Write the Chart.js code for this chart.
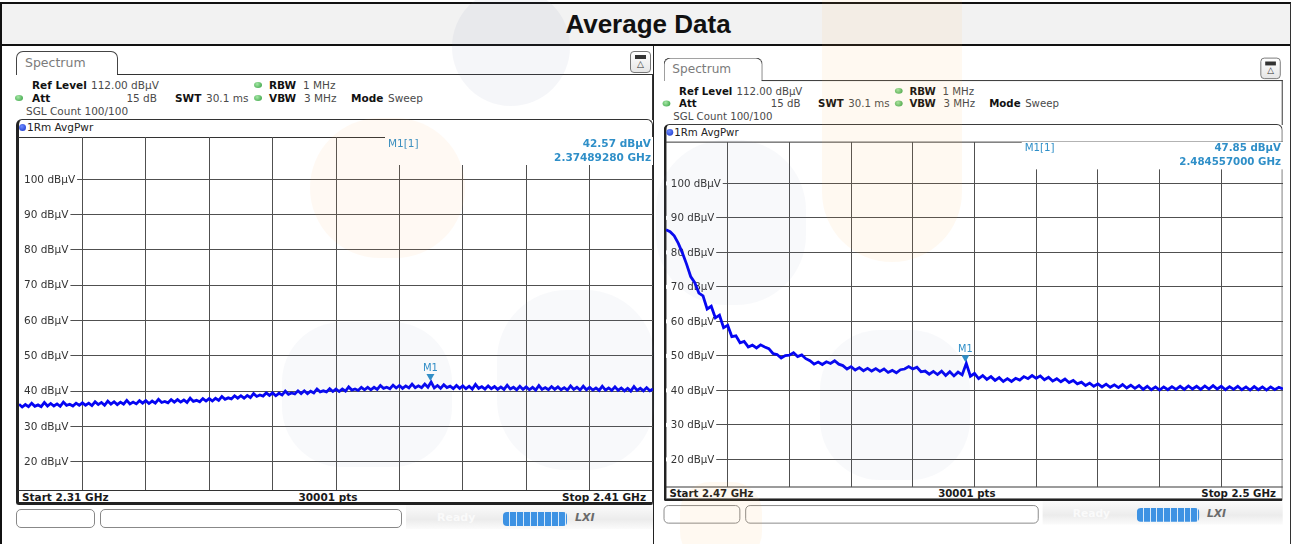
<!DOCTYPE html>
<html>
<head>
<meta charset="utf-8">
<script src="https://cdn.jsdelivr.net/npm/chart.js@4.4.1/dist/chart.umd.min.js"></script>
<style>
*{box-sizing:border-box}
body{margin:0;width:1292px;height:544px;overflow:hidden;position:relative;background:#fff;font-family:"DejaVu Sans",sans-serif}
#frame{position:absolute;left:0;top:2px;width:1291px;height:542px;border-left:2px solid #111;border-top:2px solid #111;border-right:1px solid #333}
#titlebg{position:absolute;left:2px;top:4px;width:1288px;height:42px;background:#f2f2f2;border-bottom:2px solid #111}
#title{position:absolute;left:4px;top:4px;width:1288px;height:40px;font:bold 26px "Liberation Sans",Arial,sans-serif;color:#111;text-align:center;line-height:40px}
#divider{position:absolute;left:653px;top:46px;width:1px;height:498px;background:#222}
.panel{position:absolute;left:0;top:0;width:640px;height:490px;transform-origin:0 0}
.panel div{position:absolute}
.ln{background:#333}
.t{font-size:10.5px;line-height:14px;white-space:nowrap;color:#4a4a4a}
.b{font-weight:bold;color:#111}
.dot{width:8px;height:6px;border-radius:50%;background:radial-gradient(circle at 40% 35%,#a6e8a6,#2f9c3c)}
.bdot{width:7px;height:7px;border-radius:50%;background:radial-gradient(circle at 40% 35%,#6f8cff,#1230c8)}
.tab{left:2px;top:4px;width:102px;height:24px;border:1px solid #444;border-bottom:none;border-radius:7px 7px 0 0;background:#fff}
.tab span{position:absolute;left:8px;top:3px;font-size:12.5px;line-height:16px;color:#7b7b7b}
.icon{left:616px;top:4px;width:21px;height:22px;border:1px solid #777;border-radius:4px;background:linear-gradient(#fff,#e6e6e6)}
.icon .itop{left:4px;top:3px;width:11px;height:4px;background:#333}
.icon .itri{left:0;top:6px;width:19px;text-align:center;font-size:9px;line-height:12px;color:#333}
.tbox{left:2px;top:72px;width:637px;height:386px;border:1px solid #333;border-left:3px solid #222;border-bottom:3px solid #222;border-radius:6px 6px 2px 3px}
.sbox{top:462px;height:19px;border:1px solid #888;border-radius:5px;background:#fff}
.band{left:392px;top:458px;width:247px;height:24px;background:linear-gradient(to bottom,#fbfbfb,#ececec 60%,#fbfbfb)}
.prog{left:489px;top:465px;width:64px;height:14px;border-radius:4px;background:repeating-linear-gradient(to right,#3d92e3 0,#3d92e3 6px,#d9ebfb 6px,#d9ebfb 7px)}
.lxi{left:561px;top:464px;font:italic bold 11px "DejaVu Sans",sans-serif;color:#6a6a6a;line-height:14px}
.ready{left:423px;top:464px;font:bold 11px "DejaVu Sans",sans-serif;color:#fafafa;line-height:14px}
.plot{position:absolute}
.plot canvas{display:block}
.wm{position:absolute;pointer-events:none;z-index:20}
</style>
</head>
<body>
<div id="frame"></div>
<div id="titlebg"></div>
<div id="title">Average Data</div>
<div id="divider"></div>
<div id="p1" class="panel" style="transform:translate(14px,47px)"></div>
<div id="p2" class="panel" style="transform:translate(661.6px,53.7px) scale(0.972,0.977)"></div>
<div class="plot" style="left:19px;top:137px;width:634px;height:353px"><canvas id="c1" width="634" height="353"></canvas></div>
<div class="plot" style="left:666px;top:142px;width:617px;height:345px"><canvas id="c2" width="617" height="345"></canvas></div>

<div class="wm" style="left:452px;top:-12px;width:118px;height:118px;border-radius:50%;background:rgba(110,130,170,0.07)"></div>
<div class="wm" style="left:310px;top:118px;width:155px;height:140px;border-radius:70px;background:rgba(250,175,80,0.07)"></div>
<div class="wm" style="left:282px;top:322px;width:170px;height:145px;border-radius:60px;background:rgba(110,130,170,0.05)"></div>
<div class="wm" style="left:497px;top:290px;width:158px;height:180px;border-radius:70px;background:rgba(110,130,170,0.05)"></div>
<div class="wm" style="left:822px;top:-20px;width:140px;height:282px;border-radius:0 0 70px 70px;background:rgba(250,175,80,0.08)"></div>
<div class="wm" style="left:656px;top:140px;width:150px;height:165px;border-radius:70px;background:rgba(110,130,170,0.05)"></div>
<div class="wm" style="left:820px;top:330px;width:150px;height:150px;border-radius:60px;background:rgba(110,130,170,0.05)"></div>
<div class="wm" style="left:680px;top:482px;width:82px;height:80px;border-radius:30px;background:rgba(250,175,80,0.08)"></div>

<script>
// ---------- data ----------
const refLevel = 112;
const bottomLevel = 12;
const yGridLevels = [20, 30, 40, 50, 60, 70, 80, 90, 100];

const leftStartMHz = 2310;
const leftStopMHz = 2410;
const leftXGrid = [2320, 2330, 2340, 2350, 2360, 2370, 2380, 2390, 2400];
const leftLevels = [
36.3,35.5,36.2,35.6,36.6,35.7,36.1,35.6,36.8,35.8,
36.5,35.8,36.4,35.7,36.9,36.0,36.3,35.8,36.6,36.0,
36.7,36.0,36.6,35.9,37.0,36.2,36.8,36.0,37.2,36.3,
37.0,36.2,36.9,36.3,37.4,36.4,36.9,36.4,37.3,36.6,
37.3,36.5,37.2,36.6,37.7,36.8,37.1,36.7,37.6,36.9,
37.6,36.9,37.5,36.8,38.0,37.1,37.4,37.0,37.9,37.2,
37.9,37.2,38.0,37.4,38.5,37.7,38.1,37.8,38.7,38.0,
38.7,38.0,38.8,38.2,39.3,38.5,38.9,38.6,39.5,38.8,
39.5,38.7,39.4,38.9,40.0,39.1,39.5,39.2,40.1,39.3,
40.1,39.3,40.0,39.5,40.6,39.8,40.1,39.8,40.7,39.9,
40.6,39.9,40.6,40.0,41.2,40.3,40.6,40.2,41.1,40.4,
41.1,40.4,41.1,40.5,41.6,40.8,41.1,40.7,41.7,40.9,
41.6,40.8,41.5,40.9,42.0,41.0,41.5,41.0,42.0,41.1,
42.57,40.9,41.6,40.8,41.8,41.0,41.4,40.7,41.6,40.8,
41.5,40.7,41.4,40.6,41.9,40.8,41.3,40.6,41.5,40.7,
41.3,40.5,41.2,40.5,41.7,40.6,41.1,40.4,41.4,40.5,
41.2,40.4,41.1,40.3,41.6,40.5,41.0,40.4,41.3,40.5,
41.2,40.4,41.0,40.3,41.5,40.5,41.1,40.3,41.4,40.4,
41.1,40.3,40.9,40.2,41.4,40.3,40.9,40.2,41.2,40.2,
40.9,40.1,40.8,40.0,41.3,40.2,40.8,40.1,41.0,40.1,
40.6];
const leftMarkerFreq = 2374.8928;
const leftMarkerLevel = 42.57;

const rightStartMHz = 2470;
const rightStopMHz = 2500;
const rightXGrid = [2473, 2476, 2479, 2482, 2485, 2488, 2491, 2494, 2497];
const rightLevels = [
86.6,86.0,84.8,82.6,79.8,76.6,73.0,71.2,68.2,67.4,
63.6,64.4,61.0,61.8,58.2,58.9,55.6,55.8,53.8,54.2,
52.6,53.1,52.3,53.2,52.6,52.1,50.7,50.4,49.4,50.1,
50.2,50.9,49.8,50.3,49.2,48.6,47.6,48.2,47.5,48.3,
47.8,48.6,47.6,47.2,46.2,46.9,45.9,46.6,45.7,46.4,
45.6,46.3,45.5,46.2,45.2,45.8,45.1,46.0,46.2,46.9,
46.2,46.7,45.4,45.6,44.7,45.5,44.6,45.6,44.3,45.4,
44.2,45.3,44.5,47.85,44.1,44.9,43.4,44.3,43.2,44.0,
42.9,43.7,42.6,43.4,42.6,43.5,43.0,44.0,43.4,44.3,
43.5,44.2,43.1,43.8,42.7,43.4,42.5,43.3,42.3,42.9,
41.9,42.4,41.4,42.1,41.2,41.9,41.0,41.8,40.9,41.6,
40.8,41.7,40.7,41.5,40.6,41.4,40.3,41.2,40.2,41.0,
40.1,41.0,40.2,41.1,40.3,41.2,40.3,41.3,40.4,41.2,
40.3,41.3,40.4,41.4,40.4,41.2,40.2,41.1,40.3,41.2,
40.2,41.0,40.1,41.1,40.2,41.0,40.1,41.0,40.2,40.9,
40.4];
const rightMarkerFreq = 2484.557;
const rightMarkerLevel = 47.85;

// ---------- panel chrome ----------
function buildPanel(el, startText, stopText){
  el.innerHTML = `
  <div class="tab"><span>Spectrum</span></div>
  <div class="ln" style="left:103px;top:27px;width:536px;height:1px"></div>
  <div class="ln" style="left:638px;top:27px;width:1px;height:46px"></div>
  <div class="icon"><div class="itop"></div><div class="itri">△</div></div>
  <div class="t b" style="left:18px;top:31px">Ref Level</div>
  <div class="t" style="left:77px;top:31px">112.00 dBµV</div>
  <div class="dot" style="left:240px;top:35px"></div>
  <div class="t b" style="left:255px;top:31px">RBW</div>
  <div class="t" style="left:289px;top:31px">1 MHz</div>
  <div class="dot" style="left:1px;top:48px"></div>
  <div class="t b" style="left:18px;top:44px">Att</div>
  <div class="t" style="left:83px;top:44px;width:60px;text-align:right">15 dB</div>
  <div class="t b" style="left:161px;top:44px">SWT</div>
  <div class="t" style="left:192px;top:44px">30.1 ms</div>
  <div class="dot" style="left:240px;top:48px"></div>
  <div class="t b" style="left:255px;top:44px">VBW</div>
  <div class="t" style="left:290px;top:44px">3 MHz</div>
  <div class="t b" style="left:337px;top:44px">Mode</div>
  <div class="t" style="left:374px;top:44px">Sweep</div>
  <div class="t" style="left:12px;top:57px">SGL Count 100/100</div>
  <div class="tbox"></div>
  <div class="bdot" style="left:5px;top:77px"></div>
  <div class="t" style="left:13px;top:73px;color:#222">1Rm AvgPwr</div>
  <div class="ln" style="left:4px;top:90px;width:635px;height:1px"></div>
  <div class="ln" style="left:4px;top:443px;width:635px;height:1px"></div>
  <div class="t b" style="left:8px;top:443px;color:#1a1a1a">${startText}</div>
  <div class="t b" style="left:214px;top:443px;width:200px;text-align:center;color:#1a1a1a">30001 pts</div>
  <div class="t b" style="left:432px;top:443px;width:200px;text-align:right;color:#1a1a1a">${stopText}</div>
  <div class="band"></div>
  <div class="sbox" style="left:2px;width:79px"></div>
  <div class="sbox" style="left:86px;width:302px"></div>
  <div class="ready">Ready</div>
  <div class="prog"></div>
  <div class="lxi">LXI</div>
  `;
}
buildPanel(document.getElementById('p1'), 'Start 2.31 GHz', 'Stop 2.41 GHz');
buildPanel(document.getElementById('p2'), 'Start 2.47 GHz', 'Stop 2.5 GHz');

// ---------- charts ----------
const markerColor = '#2f8fc8';

function makeChart(canvasId, start, stop, levels, xGrid, mFreq, mLevel, mLevelText, mFreqText, sx, sy){
  const pts = levels.map((v, i) => ({x: start + i * (stop - start) / (levels.length - 1), y: v}));
  const fs = 10.5 * sy;
  const overlay = {
    id: 'analyzerOverlay',
    beforeDatasetsDraw(chart){
      const {ctx, chartArea: a, scales: {y}} = chart;
      ctx.save();
      ctx.font = fs + 'px "DejaVu Sans"';
      ctx.textBaseline = 'middle';
      ctx.textAlign = 'left';
      yGridLevels.forEach(v => {
        const py = y.getPixelForValue(v);
        const label = v + ' dBµV';
        const w = ctx.measureText(label).width;
        ctx.fillStyle = '#fff';
        ctx.fillRect(a.left, py - 2, 5 * sx + w + 2, 4);
        ctx.fillStyle = '#333';
        ctx.fillText(label, a.left + 5 * sx, py + 0.5);
      });
      // marker info area
      const ix = a.left + 366 * sx;
      ctx.fillStyle = '#fff';
      ctx.fillRect(ix, a.top, a.right - ix, 28 * sy);
      ctx.fillStyle = markerColor;
      ctx.font = fs + 'px "DejaVu Sans"';
      ctx.fillText('M1[1]', ix + 3 * sx, a.top + 7 * sy);
      ctx.font = 'bold ' + fs + 'px "DejaVu Sans"';
      ctx.textAlign = 'right';
      ctx.fillText(mLevelText, a.right - 2, a.top + 7 * sy);
      ctx.fillText(mFreqText, a.right - 2, a.top + 21 * sy);
      ctx.restore();
    },
    afterDatasetsDraw(chart){
      const {ctx, scales: {x, y}} = chart;
      const px = x.getPixelForValue(mFreq);
      const py = y.getPixelForValue(mLevel);
      ctx.save();
      ctx.fillStyle = markerColor;
      ctx.beginPath();
      ctx.moveTo(px - 4 * sx, py - 8);
      ctx.lineTo(px + 4 * sx, py - 8);
      ctx.lineTo(px, py - 1);
      ctx.closePath();
      ctx.fill();
      ctx.font = (10 * sy) + 'px "DejaVu Sans"';
      ctx.textAlign = 'center';
      ctx.textBaseline = 'middle';
      ctx.fillText('M1', px, py - 14);
      ctx.restore();
    }
  };
  return new Chart(document.getElementById(canvasId), {
    type: 'line',
    data: {datasets: [{data: pts, borderColor: '#0505f2', borderWidth: 2.8, pointRadius: 0, tension: 0, fill: false, borderJoinStyle: 'miter'}]},
    options: {
      responsive: false,
      animation: false,
      devicePixelRatio: 1,
      layout: {padding: 0},
      plugins: {legend: {display: false}, tooltip: {enabled: false}},
      scales: {
        x: {
          type: 'linear', min: start, max: stop,
          afterBuildTicks: s => { s.ticks = xGrid.map(v => ({value: v})); },
          ticks: {display: false},
          grid: {color: '#505050', lineWidth: 1, drawTicks: false},
          border: {display: false}
        },
        y: {
          type: 'linear', min: bottomLevel, max: refLevel,
          afterBuildTicks: s => { s.ticks = yGridLevels.map(v => ({value: v})); },
          ticks: {display: false},
          grid: {color: '#505050', lineWidth: 1, drawTicks: false},
          border: {display: false}
        }
      }
    },
    plugins: [overlay]
  });
}

makeChart('c1', leftStartMHz, leftStopMHz, leftLevels, leftXGrid, leftMarkerFreq, leftMarkerLevel, '42.57 dBµV', '2.37489280 GHz', 1, 1);
makeChart('c2', rightStartMHz, rightStopMHz, rightLevels, rightXGrid, rightMarkerFreq, rightMarkerLevel, '47.85 dBµV', '2.484557000 GHz', 0.972, 0.977);
</script>
</body>
</html>
